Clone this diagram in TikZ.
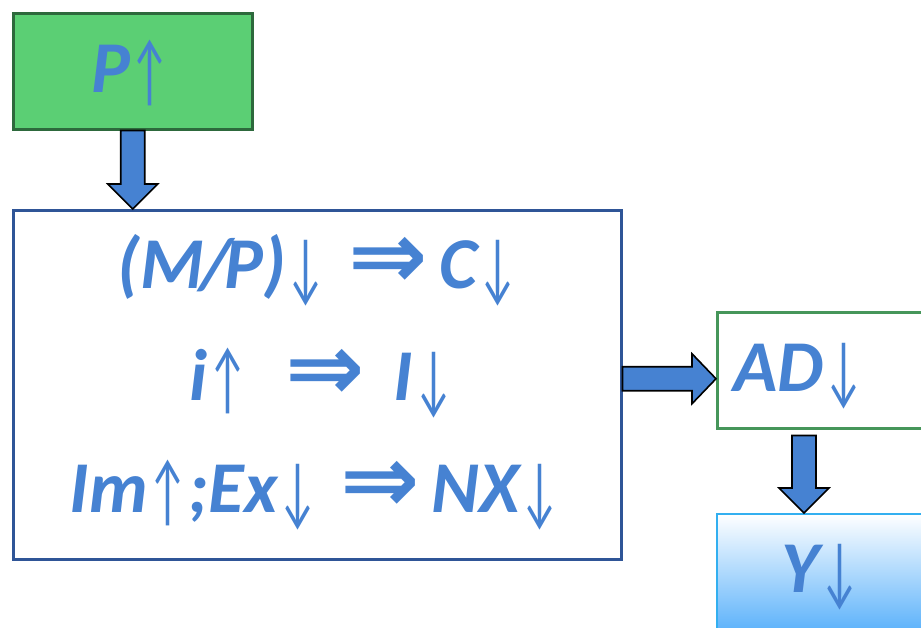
\documentclass[tikz,border=0pt]{standalone}
\usepackage{fontspec}
\setmainfont{Carlito}
\newfontfamily\arr{Carlito}
\newfontfamily\arrb{DejaVu Sans}
\usetikzlibrary{calc}
\definecolor{txtblue}{RGB}{70,130,210}
\definecolor{pgreen}{RGB}{91,207,116}
\definecolor{pgreenline}{RGB}{45,105,60}
\definecolor{boxblue}{RGB}{47,85,151}
\definecolor{adgreen}{RGB}{70,150,90}
\definecolor{yline}{RGB}{50,175,240}
\definecolor{ybot}{RGB}{75,170,250}
\newcommand{\ua}{\raisebox{-5pt}{\scalebox{0.62}[1.08]{\arr\mdseries\upshape ↑}}}
\newcommand{\da}{\raisebox{-5pt}{\scalebox{0.62}[1.08]{\arr\mdseries\upshape ↓}}}
\newcommand{\ra}{{\arrb\bfseries\upshape\scalebox{1.3}{⇒}}}
\tikzset{
  txt/.style={text=txtblue, font=\fontsize{73}{80}\selectfont\bfseries\itshape, inner sep=0pt},
  blockarrow/.style={draw=black, line width=1.6pt, fill=txtblue, line join=miter},
}
\begin{document}
\begin{tikzpicture}[x=1pt,y=-1pt]
\useasboundingbox (0,0) rectangle (921,627);
\begin{scope}
\clip (0,0) rectangle (921,627);
% boxes
\node[draw=pgreenline, fill=pgreen, line width=2.5pt, minimum width=239pt, minimum height=116pt, anchor=north west, inner sep=0pt] (pbox) at (12,12) {};
\node[draw=boxblue, line width=2.5pt, minimum width=608pt, minimum height=349pt, anchor=north west, inner sep=0pt] (big) at (12,209) {};
\node[draw=adgreen, line width=2.5pt, minimum width=220pt, minimum height=116pt, anchor=north west, inner sep=0pt] (ad) at (716,311) {};
\node[draw=yline, line width=1.5pt, top color=white, bottom color=ybot, minimum width=220pt, minimum height=130pt, anchor=north west, inner sep=0pt] (ybox) at (716,513) {};
% texts
\node[txt, anchor=base] (pt) at (131,92) {P\ua};
\node[txt, anchor=base] (l1) at (318,288) {(M\kern-0.06em/\kern-0.1em P)\da\hspace{0.3em}\ra\hspace{0.15em}C\da};
\node[txt, anchor=base] (l2) at (322,400) {i\ua\hspace{0.5em}\ra\hspace{0.4em}I\da};
\node[txt, anchor=base] (l3) at (315,512) {Im\ua;Ex\da\hspace{0.3em}\ra\hspace{0.15em}NX\da};
\node[txt, anchor=base west] (adt) at (733,391) {AD\da};
\node[txt, anchor=base west] (yt) at (781,592) {Y\da};
% block arrows
\coordinate (a1s) at (pbox.south);
\coordinate (a1t) at (a1s |- big.north);
\draw[blockarrow] ($(a1s)+(-12,0)$) -- ($(a1t)+(-12,-25)$) -- ($(a1t)+(-25,-25)$) -- (a1t)
  -- ($(a1t)+(25,-25)$) -- ($(a1t)+(12,-25)$) -- ($(a1s)+(12,0)$) -- cycle;
\coordinate (a2s) at ($(big.east)+(0,-6)$);
\coordinate (a2t) at (a2s -| ad.west);
\draw[blockarrow] ($(a2s)+(0,-12)$) -- ($(a2t)+(-24,-12)$) -- ($(a2t)+(-24,-25)$) -- (a2t)
  -- ($(a2t)+(-24,25)$) -- ($(a2t)+(-24,12)$) -- ($(a2s)+(0,12)$) -- cycle;
\coordinate (a3s) at ($(ad.south west)+(88,6)$);
\coordinate (a3t) at (a3s |- ybox.north);
\draw[blockarrow] ($(a3s)+(-12,0)$) -- ($(a3t)+(-12,-25)$) -- ($(a3t)+(-25,-25)$) -- (a3t)
  -- ($(a3t)+(25,-25)$) -- ($(a3t)+(12,-25)$) -- ($(a3s)+(12,0)$) -- cycle;
\end{scope}
\end{tikzpicture}
\end{document}
